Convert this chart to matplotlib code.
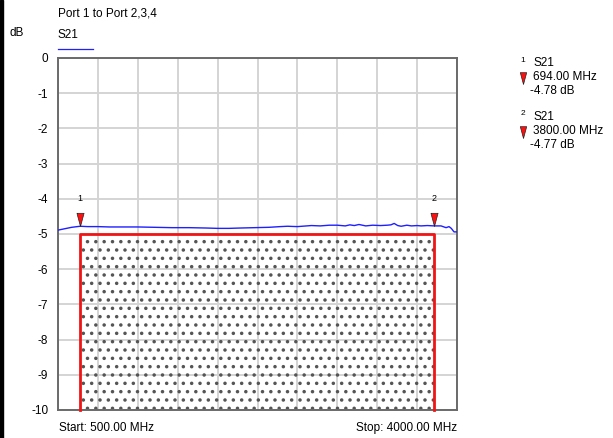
import matplotlib
matplotlib.use("Agg")
import matplotlib.pyplot as plt
from matplotlib.patches import Rectangle

plt.rcParams.update({"font.family": ["Liberation Sans", "DejaVu Sans"], "font.size": 8.5,
                     "hatch.linewidth": 1.3})

# trace S21 (MHz, dB)
freq = [500, 560, 620, 694, 760, 850, 950, 1050, 1200, 1350, 1500, 1650, 1800, 1900,
        2000, 2100, 2224, 2350, 2450, 2513, 2600, 2723, 2800, 2880, 2950, 3020, 3060,
        3099, 3140, 3200, 3260, 3330, 3388, 3420, 3449, 3480, 3510, 3560, 3600, 3650,
        3685, 3740, 3800, 3860, 3904, 3930, 3950, 3974, 4000]
s21 = [-4.89, -4.85, -4.81, -4.78, -4.79, -4.79, -4.80, -4.80, -4.80, -4.81, -4.82, -4.82,
       -4.83, -4.84, -4.84, -4.83, -4.82, -4.81, -4.79, -4.78, -4.79, -4.76, -4.77, -4.75,
       -4.75, -4.77, -4.74, -4.76, -4.73, -4.77, -4.75, -4.76, -4.75, -4.74, -4.70, -4.76,
       -4.78, -4.75, -4.77, -4.76, -4.77, -4.76, -4.77, -4.77, -4.82, -4.79, -4.84, -4.94, -4.94]

# markers
mk_id = ["1", "2"]
mk_f = [694.00, 3800.00]
mk_db = [-4.78, -4.77]

# limit mask
mask_f = [694, 3800]
mask_top = -5
f_start, f_stop = 500, 4000
yticks = list(range(0, -11, -1))

W, H = 613, 438
fig = plt.figure(figsize=(W / 100, H / 100), dpi=100)
def px(x, y):
    return x / W, 1 - y / H

ax = fig.add_axes([58 / W, 28 / H, 399 / W, 352 / H])
ax.set_xlim(f_start, f_stop)
ax.set_ylim(-10, 0)
ax.set_xticks([f_start + k * (f_stop - f_start) / 10 for k in range(11)])
ax.set_xticklabels([])
ax.set_yticks(yticks)
ax.set_yticklabels([str(v) for v in yticks])
ax.tick_params(length=0, pad=7, labelsize=8.5)
ax.grid(True, color="#d4d4d4", lw=1.4)
ax.set_axisbelow(True)
for s in ax.spines.values():
    s.set_color("#6a6a6a"); s.set_linewidth(1.4)

# dotted mask area + red outline
ax.fill_between(mask_f, [mask_top, mask_top], -10, facecolor="none", edgecolor="#555555",
                hatch="..", linewidth=0, zorder=2)
ax.plot([mask_f[0], mask_f[0], mask_f[1], mask_f[1]], [-10, mask_top, mask_top, -10],
        color="#f01414", lw=2, zorder=3, clip_on=False)

ax.plot(freq, s21, color="#1f1fff", lw=1, zorder=4)

tri = [(-0.27, 1.0), (0.27, 1.0), (0.0, 0.0), (-0.27, 1.0)]
for i, f, d in zip(mk_id, mk_f, mk_db):
    ax.plot(f, d, marker=tri, markersize=19, color="#ff1010", markeredgecolor="#222222",
            markeredgewidth=0.5, zorder=5, linestyle="none")
    ax.annotate(i, (f, d), xytext=(0, 20), textcoords="offset points", ha="center",
                va="center", fontsize=6.5)

fig.text(*px(58, 13), "Port 1 to Port 2,3,4", va="center", ha="left")
fig.text(*px(10, 33), "dB", va="center", ha="left")
fig.text(*px(58, 35), "S21", va="center", ha="left")
fig.add_artist(plt.Line2D([58 / W, 93 / W], [1 - 49 / H] * 2, color="#1f1fff", lw=0.9))
fig.text(*px(59, 428), "Start: %.2f MHz" % f_start, va="center", ha="left")
fig.text(*px(457, 428), "Stop: %.2f MHz" % f_stop, va="center", ha="right")

# marker readout on the right
for k, (i, f, d) in enumerate(zip(mk_id, mk_f, mk_db)):
    y0 = 63 + k * 54
    fig.text(*px(523, y0 - 3), i, va="center", ha="center", fontsize=6)
    fig.text(*px(533, y0), "S21", va="center", ha="left")
    fig.text(*px(533, y0 + 14), "%.2f MHz" % f, va="center", ha="left")
    fig.text(*px(530, y0 + 28), "%.2f dB" % d, va="center", ha="left")
    fig.add_artist(plt.Line2D([523 / W], [1 - (y0 + 21) / H], marker=tri, markersize=17,
                              color="#ff1010", markeredgecolor="#222222", markeredgewidth=0.5))

# black frame edge at the left
fig.add_artist(Rectangle((0, 0), 3 / W, 1, transform=fig.transFigure, color="black"))

fig.savefig("out.png", dpi=100)
